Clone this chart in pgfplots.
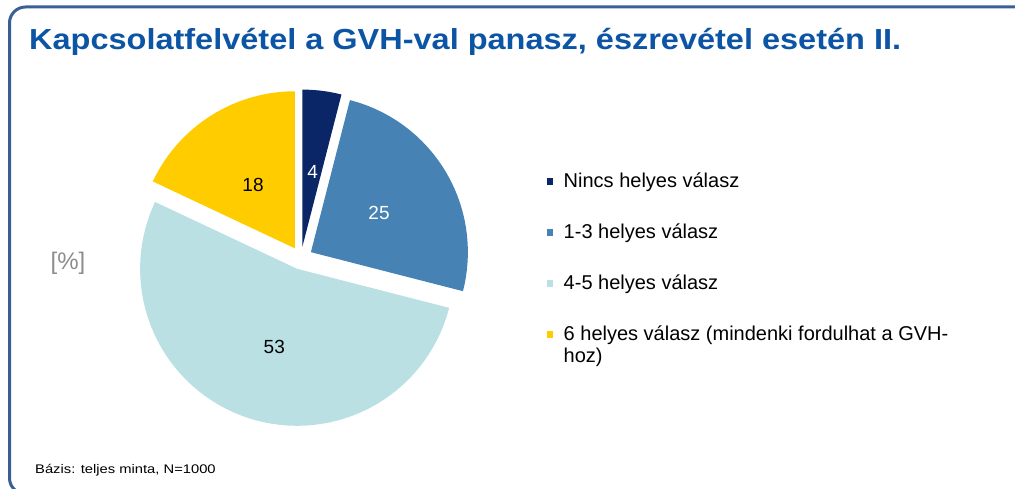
\documentclass[border=0pt]{standalone}
\usepackage{fontspec}
\setmainfont{Liberation Sans}
\newfontfamily\titlefont{Liberation Sans}[FakeStretch=1.12]
\newfontfamily\notefont{Liberation Sans}[FakeStretch=1.18]
\usepackage{pgfplots}
\pgfplotsset{compat=1.18}
\definecolor{navyc}{RGB}{10,38,102}
\definecolor{bluec}{RGB}{70,130,180}
\definecolor{cyanc}{RGB}{186,224,227}
\definecolor{yellowc}{RGB}{255,204,0}
\definecolor{framec}{RGB}{58,95,150}
\definecolor{titlec}{RGB}{12,84,164}
\definecolor{grayc}{RGB}{140,140,140}
\begin{document}
\begin{tikzpicture}[x=1pt,y=1pt]
\path[use as bounding box] (0,0) rectangle (1015,489);
\draw[framec, line width=3pt, rounded corners=16pt] (1030,482) -- (9.5,482) -- (9.5,-5) -- (1030,-5);
\node[anchor=base west, inner sep=0pt, text=titlec, font=\titlefont\bfseries\fontsize{29}{33}\selectfont] at (29,439) {Kapcsolatfelvétel a GVH-val panasz, észrevétel esetén II.};
\node[inner sep=0pt, text=grayc, font=\fontsize{24}{28}\selectfont] at (68,226) {[\%]};
\node[anchor=base west, inner sep=0pt, font=\notefont\fontsize{12.5}{15}\selectfont] at (35,15) {Bázis: teljes minta, N=1000};
\begin{axis}[
  at={(301,231)}, anchor=origin,
  x=1pt, y=1pt,
  xmin=-200, xmax=200, ymin=-200, ymax=200,
  hide axis, clip=false,
  legend image code/.code={\fill[#1] (0pt,2.5pt) rectangle (6.5pt,8.8pt);},
  legend style={
    at={(1.1143,0.7118)}, anchor=north west,
    draw=none, fill=none, inner sep=0pt, outer sep=0pt,
    font=\fontsize{20}{22.5}\selectfont,
    cells={anchor=base west},
    nodes={text height=14pt, text depth=5pt, inner sep=0pt},
    row sep=32pt, column sep=10.5pt,
  },
]
% 4 : 90 -> 75.6
\addplot[forget plot, fill=navyc, draw=none, data cs=polar, xshift=1.44pt, yshift=11.41pt] coordinates {
(0,0) (90,157) (87,157) (84,157) (81,157) (78,157) (75.6,157)} -- cycle;
% 25 : 75.6 -> -14.4
\addplot[forget plot, fill=bluec, draw=none, data cs=polar, xshift=9.90pt, yshift=5.85pt] coordinates {
(0,0) (75.6,157) (72,157) (69,157) (66,157) (63,157) (60,157) (57,157) (54,157) (51,157) (48,157) (45,157) (42,157) (39,157) (36,157) (33,157) (30,157) (27,157) (24,157) (21,157) (18,157) (15,157) (12,157) (9,157) (6,157) (3,157) (0,157) (-3,157) (-6,157) (-9,157) (-12,157) (-14.4,157)} -- cycle;
% 53 : -14.4 -> -205.2
\addplot[forget plot, fill=cyanc, draw=none, data cs=polar, xshift=-3.90pt, yshift=-10.82pt] coordinates {
(0,0) (-14.4,157) (-15,157) (-18,157) (-21,157) (-24,157) (-27,157) (-30,157) (-33,157) (-36,157) (-39,157) (-42,157) (-45,157) (-48,157) (-51,157) (-54,157) (-57,157) (-60,157) (-63,157) (-66,157) (-69,157) (-72,157) (-75,157) (-78,157) (-81,157) (-84,157) (-87,157) (-90,157) (-93,157) (-96,157) (-99,157) (-102,157) (-105,157) (-108,157) (-111,157) (-114,157) (-117,157) (-120,157) (-123,157) (-126,157) (-129,157) (-132,157) (-135,157) (-138,157) (-141,157) (-144,157) (-147,157) (-150,157) (-153,157) (-156,157) (-159,157) (-162,157) (-165,157) (-168,157) (-171,157) (-174,157) (-177,157) (-180,157) (-183,157) (-186,157) (-189,157) (-192,157) (-195,157) (-198,157) (-201,157) (-204,157) (-205.2,157)} -- cycle;
% 18 : 154.8 -> 90
\addplot[forget plot, fill=yellowc, draw=none, data cs=polar, xshift=-6.16pt, yshift=9.71pt] coordinates {
(0,0) (154.8,157) (153,157) (150,157) (147,157) (144,157) (141,157) (138,157) (135,157) (132,157) (129,157) (126,157) (123,157) (120,157) (117,157) (114,157) (111,157) (108,157) (105,157) (102,157) (99,157) (96,157) (93,157) (90,157)} -- cycle;
\node[text=white, inner sep=0pt, font=\fontsize{19}{22}\selectfont] at (axis cs:11.7,86.3) {4};
\node[text=white, inner sep=0pt, font=\fontsize{19}{22}\selectfont] at (axis cs:78,45) {25};
\node[text=black, inner sep=0pt, font=\fontsize{19}{22}\selectfont] at (axis cs:-48,73) {18};
\node[text=black, inner sep=0pt, font=\fontsize{19}{22}\selectfont] at (axis cs:-26.7,-88.7) {53};
\addlegendimage{fill=navyc, draw=none}
\addlegendentry{Nincs helyes válasz}
\addlegendimage{fill=bluec, draw=none}
\addlegendentry{1-3 helyes válasz}
\addlegendimage{fill=cyanc, draw=none}
\addlegendentry{4-5 helyes válasz}
\addlegendimage{fill=yellowc, draw=none}
\addlegendentry{\parbox[t]{420pt}{\raggedright 6 helyes válasz (mindenki fordulhat a GVH-\\hoz)}}
\end{axis}
\end{tikzpicture}
\end{document}
